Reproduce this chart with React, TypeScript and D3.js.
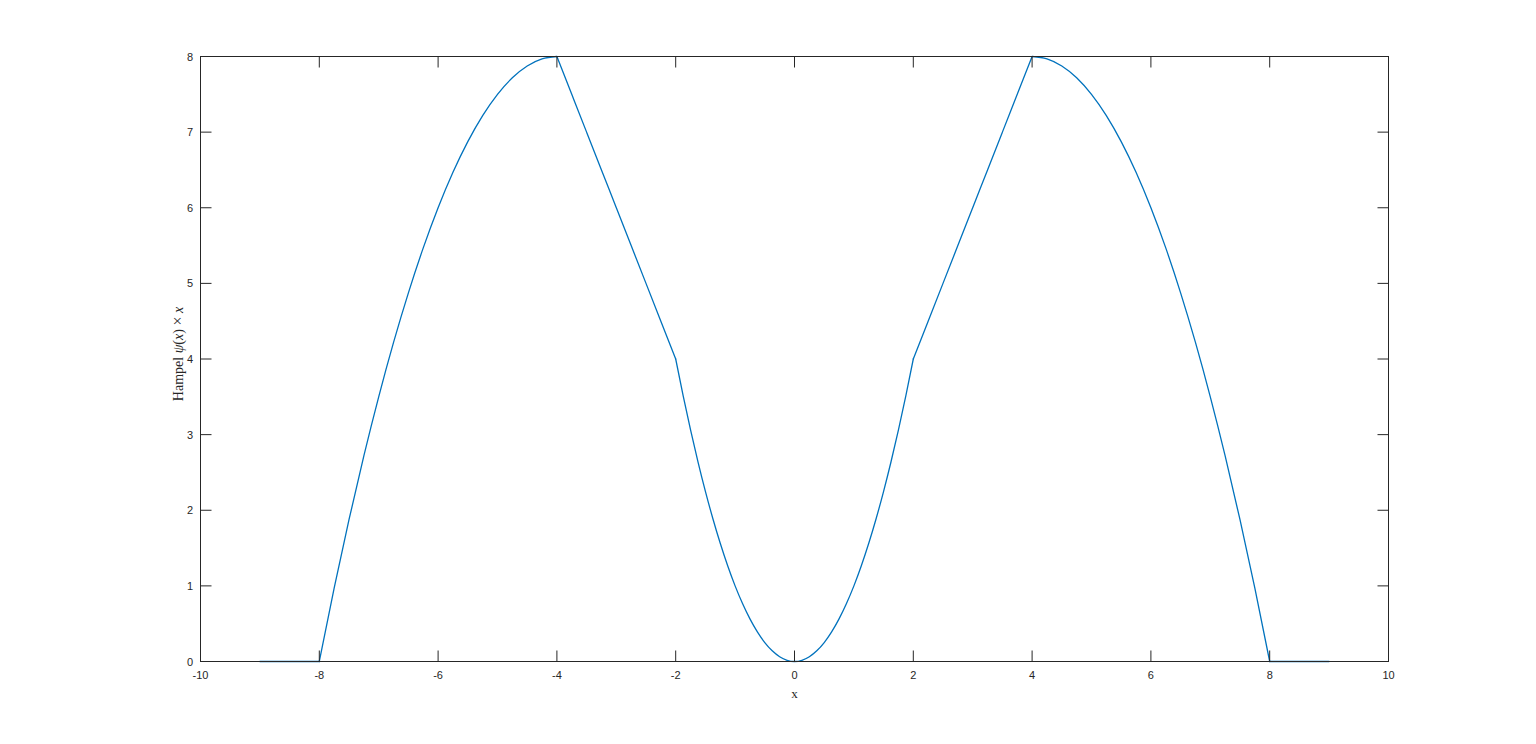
import React from "react";
import * as d3 from "d3";

const xValues = [
  -9, -8.75, -8.5, -8.25, -8, -7.75, -7.5, -7.25, -7, -6.75, -6.5, -6.25, -6, -5.75, -5.5, -5.25, -5,
  -4.75, -4.5, -4.25, -4, -3.75, -3.5, -3.25, -3, -2.75, -2.5, -2.25, -2,
  -1.875, -1.75, -1.625, -1.5, -1.375, -1.25, -1.125, -1, -0.875, -0.75, -0.625, -0.5, -0.375, -0.25, -0.125, 0,
  0.125, 0.25, 0.375, 0.5, 0.625, 0.75, 0.875, 1, 1.125, 1.25, 1.375, 1.5, 1.625, 1.75, 1.875, 2,
  2.25, 2.5, 2.75, 3, 3.25, 3.5, 3.75, 4, 4.25, 4.5, 4.75, 5, 5.25, 5.5, 5.75, 6, 6.25, 6.5, 6.75, 7,
  7.25, 7.5, 7.75, 8, 8.25, 8.5, 8.75, 9,
];
const yValues = [
  0, 0, 0, 0, 0, 0.969, 1.875, 2.719, 3.5, 4.219, 4.875, 5.469, 6, 6.469, 6.875, 7.219, 7.5,
  7.719, 7.875, 7.969, 8, 7.5, 7, 6.5, 6, 5.5, 5, 4.5, 4,
  3.516, 3.063, 2.641, 2.25, 1.891, 1.563, 1.266, 1, 0.766, 0.563, 0.391, 0.25, 0.141, 0.063, 0.016, 0,
  0.016, 0.063, 0.141, 0.25, 0.391, 0.563, 0.766, 1, 1.266, 1.563, 1.891, 2.25, 2.641, 3.063, 3.516, 4,
  4.5, 5, 5.5, 6, 6.5, 7, 7.5, 8, 7.969, 7.875, 7.719, 7.5, 7.219, 6.875, 6.469, 6, 5.469, 4.875, 4.219, 3.5,
  2.719, 1.875, 0.969, 0, 0, 0, 0, 0,
];
// x positions where the curve has a corner
const breakpoints = [-9, -8, -4, -2, 2, 4, 8, 9];
const xTicks = [-10, -8, -6, -4, -2, 0, 2, 4, 6, 8, 10];
const yTicks = [0, 1, 2, 3, 4, 5, 6, 7, 8];

const W = 1536;
const H = 744;
const left = 200.5;
const right = 1388.5;
const top = 56.5;
const bottom = 661.5;
const tickLen = 11;

export default function App() {
  const x = d3.scaleLinear().domain([-10, 10]).range([left, right]);
  const y = d3.scaleLinear().domain([0, 8]).range([bottom, top]);
  const pts: [number, number][] = xValues.map((v, i) => [v, yValues[i]]);
  const line = d3
    .line<[number, number]>()
    .x((d) => x(d[0]))
    .y((d) => y(d[1]))
    .curve(d3.curveMonotoneX);
  const pieces: string[] = [];
  for (let i = 0; i < breakpoints.length - 1; i++) {
    const a = breakpoints[i];
    const b = breakpoints[i + 1];
    const seg = pts.filter((p) => p[0] >= a && p[0] <= b);
    pieces.push(line(seg) || "");
  }
  const tickFont = "'Liberation Sans', Arial, Helvetica, sans-serif";
  const serif = "'Liberation Serif', 'Times New Roman', serif";
  return (
    <div style={{ position: "fixed", left: 0, top: 0, width: W, height: H, background: "#fff" }}>
      <svg width={W} height={H} style={{ display: "block" }}>
        <rect x={0} y={0} width={W} height={H} fill="#fff" />
        {/* data */}
        {pieces.map((d, i) => (
          <path key={i} d={d} fill="none" stroke="#0072BD" strokeWidth={1.3} strokeLinejoin="round" strokeLinecap="round" />
        ))}
        {/* box */}
        <rect x={left} y={top} width={right - left} height={bottom - top} fill="none" stroke="#262626" strokeWidth={1} />
        {/* x ticks */}
        {xTicks.map((t) => (
          <g key={"x" + t}>
            <line x1={x(t)} x2={x(t)} y1={bottom} y2={bottom - tickLen} stroke="#262626" />
            <line x1={x(t)} x2={x(t)} y1={top} y2={top + tickLen} stroke="#262626" />
            <text x={x(t)} y={679} textAnchor="middle" fontFamily={tickFont} fontSize={11} fill="#262626">
              {t}
            </text>
          </g>
        ))}
        {/* y ticks */}
        {yTicks.map((t) => (
          <g key={"y" + t}>
            <line x1={left} x2={left + tickLen} y1={y(t)} y2={y(t)} stroke="#262626" />
            <line x1={right} x2={right - tickLen} y1={y(t)} y2={y(t)} stroke="#262626" />
            <text x={193} y={y(t) + 4} textAnchor="end" fontFamily={tickFont} fontSize={11} fill="#262626">
              {t}
            </text>
          </g>
        ))}
        {/* axis labels */}
        <text x={(left + right) / 2} y={698} textAnchor="middle" fontFamily={serif} fontSize={13} fill="#262626">
          x
        </text>
        <text
          transform={`translate(183, 354) rotate(-90)`}
          textAnchor="middle"
          fontFamily={serif}
          fontSize={14}
          fill="#262626"
        >
          Hampel <tspan fontStyle="italic">ψ</tspan>(<tspan fontStyle="italic">x</tspan>) <tspan fontSize={16}>×</tspan> <tspan fontStyle="italic">x</tspan>
        </text>
      </svg>
    </div>
  );
}
